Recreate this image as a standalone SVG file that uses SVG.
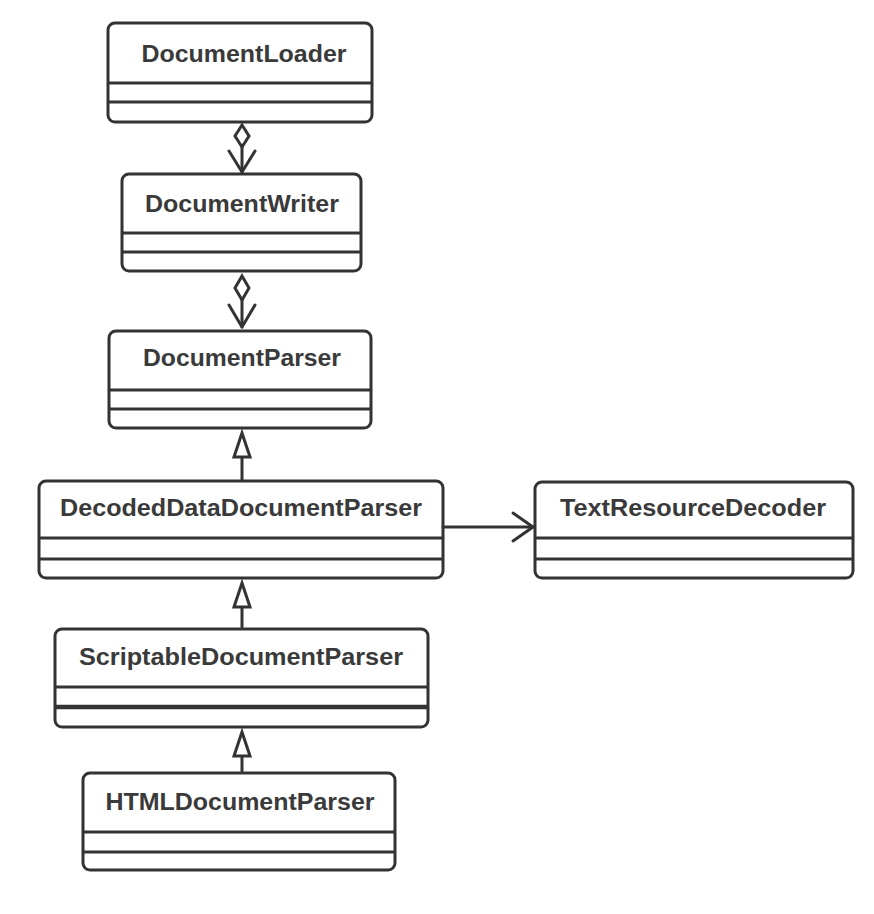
<svg xmlns="http://www.w3.org/2000/svg" width="874" height="914" viewBox="0 0 874 914">
<style>
.box{fill:#fff;stroke:#333;stroke-width:3}
.div{stroke:#333;stroke-width:3}
.t{font-family:"Liberation Sans",Arial,sans-serif;font-weight:bold;font-size:23px;fill:#3a3a3a;text-anchor:middle}
.c{fill:none;stroke:#333;stroke-width:3;stroke-linejoin:round;stroke-linecap:round}
.tri{fill:#fff;stroke:#333;stroke-width:3;stroke-linejoin:miter}
</style>
<rect width="874" height="914" fill="#fff"/>
<g id="DocumentLoader">
<rect class="box" x="108" y="23" width="264" height="99" rx="7"/>
<line class="div" x1="108" y1="83" x2="372" y2="83"/>
<line class="div" x1="108" y1="102" x2="372" y2="102"/>
<text class="t" x="244" y="62" textLength="205" lengthAdjust="spacingAndGlyphs">DocumentLoader</text>
</g>
<g id="DocumentWriter">
<rect class="box" x="122" y="174" width="239" height="97" rx="7"/>
<line class="div" x1="122" y1="233" x2="361" y2="233"/>
<line class="div" x1="122" y1="252" x2="361" y2="252"/>
<text class="t" x="242" y="212" textLength="194" lengthAdjust="spacingAndGlyphs">DocumentWriter</text>
</g>
<g id="DocumentParser">
<rect class="box" x="109" y="331" width="262" height="97" rx="7"/>
<line class="div" x1="109" y1="390" x2="371" y2="390"/>
<line class="div" x1="109" y1="409" x2="371" y2="409"/>
<text class="t" x="242" y="366" textLength="198" lengthAdjust="spacingAndGlyphs">DocumentParser</text>
</g>
<g id="DecodedDataDocumentParser">
<rect class="box" x="39" y="481" width="404" height="97" rx="7"/>
<line class="div" x1="39" y1="538" x2="443" y2="538"/>
<line class="div" x1="39" y1="559" x2="443" y2="559"/>
<text class="t" x="241" y="516" textLength="362" lengthAdjust="spacingAndGlyphs">DecodedDataDocumentParser</text>
</g>
<g id="TextResourceDecoder">
<rect class="box" x="535" y="482" width="318" height="96" rx="7"/>
<line class="div" x1="535" y1="538" x2="853" y2="538"/>
<line class="div" x1="535" y1="559" x2="853" y2="559"/>
<text class="t" x="693" y="516" textLength="266" lengthAdjust="spacingAndGlyphs">TextResourceDecoder</text>
</g>
<g id="ScriptableDocumentParser">
<rect class="box" x="55" y="629" width="373" height="98" rx="7"/>
<line class="div" x1="55" y1="687" x2="428" y2="687"/>
<line class="div" x1="55" y1="707" x2="428" y2="707" style="stroke-width:4.5"/>
<text class="t" x="241" y="665" textLength="324" lengthAdjust="spacingAndGlyphs">ScriptableDocumentParser</text>
</g>
<g id="HTMLDocumentParser">
<rect class="box" x="83" y="773" width="312" height="97" rx="7"/>
<line class="div" x1="83" y1="832" x2="395" y2="832"/>
<line class="div" x1="83" y1="852" x2="395" y2="852"/>
<text class="t" x="240" y="810" textLength="269" lengthAdjust="spacingAndGlyphs">HTMLDocumentParser</text>
</g>
<g id="connectors">
<polygon class="tri" points="242,125 249,136 242,147 235,136"/>
<line class="c" x1="242" y1="147" x2="242" y2="172"/>
<polyline class="c" points="229,151 242,172 255,151"/>
<polygon class="tri" points="242,276 249,288 242,300 235,288"/>
<line class="c" x1="242" y1="300" x2="242" y2="327"/>
<polyline class="c" points="229,305 242,327 255,305"/>
<line class="c" x1="242" y1="457" x2="242" y2="480"/>
<polygon class="tri" points="242,433 250,457 234,457"/>
<line class="c" x1="242" y1="607" x2="242" y2="627"/>
<polygon class="tri" points="242,583 250,607 234,607"/>
<line class="c" x1="242" y1="756" x2="242" y2="771"/>
<polygon class="tri" points="242,732 250,756 234,756"/>
<line class="c" x1="443" y1="527" x2="533" y2="527"/>
<polyline class="c" points="513,513 533,527 513,541"/>
</g>
</svg>
